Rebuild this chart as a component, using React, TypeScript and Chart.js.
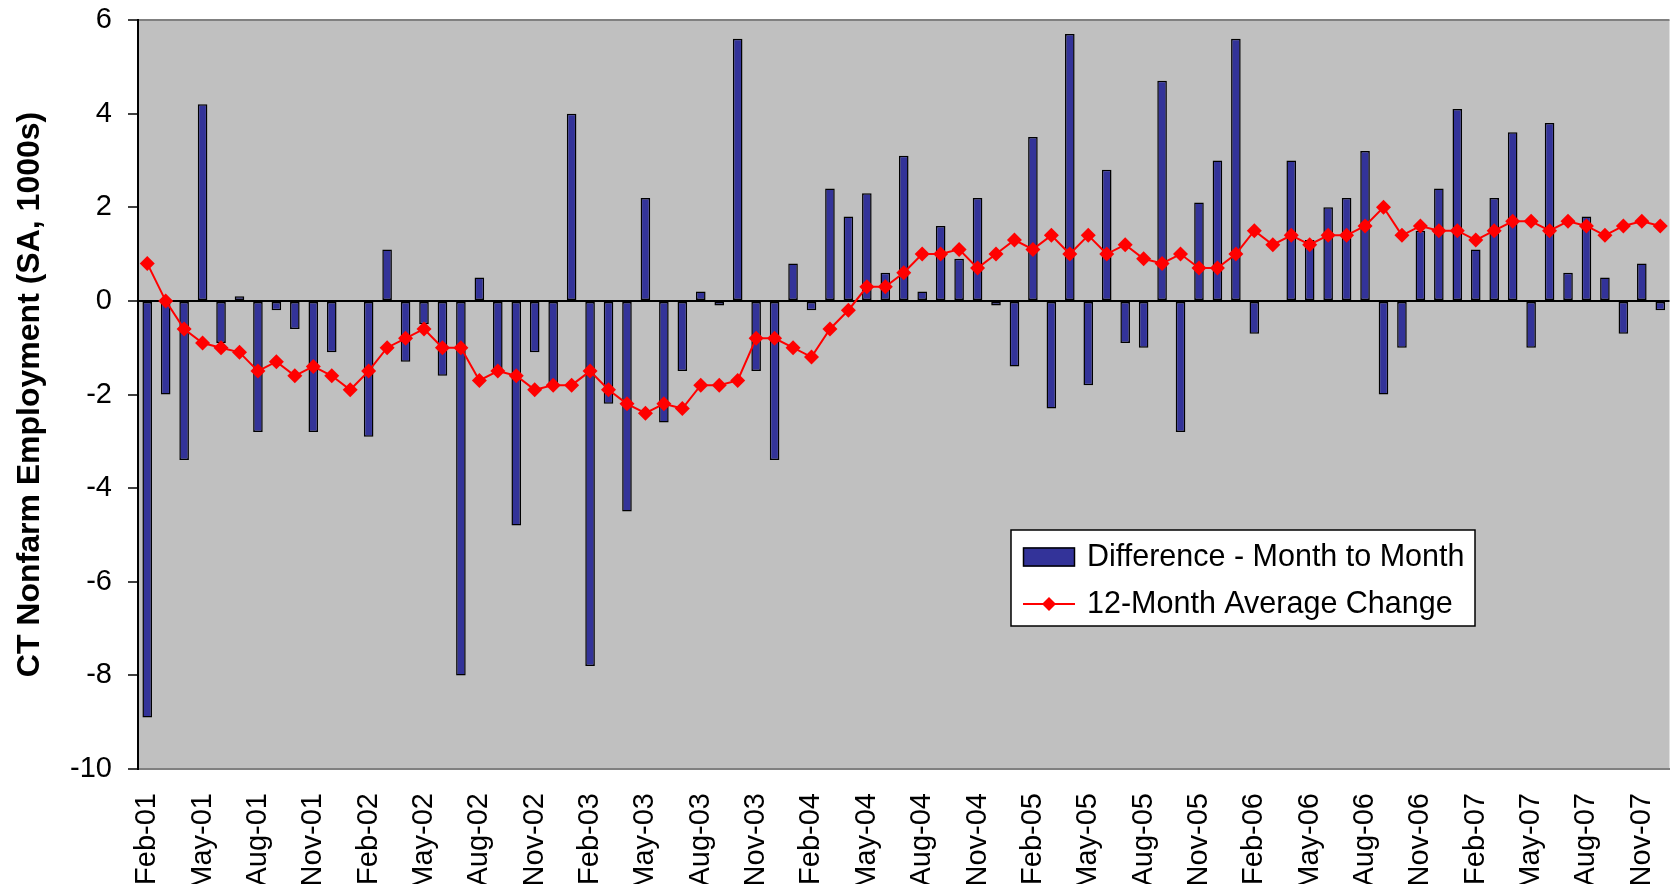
import React, { useEffect, useRef } from 'react';
import { Chart, registerables } from 'chart.js';

Chart.register(...registerables);

const categories: string[] = [
  'Feb-01', 'Mar-01', 'Apr-01', 'May-01', 'Jun-01', 'Jul-01', 'Aug-01', 'Sep-01', 'Oct-01', 'Nov-01', 'Dec-01',
  'Jan-02', 'Feb-02', 'Mar-02', 'Apr-02', 'May-02', 'Jun-02', 'Jul-02', 'Aug-02', 'Sep-02', 'Oct-02', 'Nov-02', 'Dec-02',
  'Jan-03', 'Feb-03', 'Mar-03', 'Apr-03', 'May-03', 'Jun-03', 'Jul-03', 'Aug-03', 'Sep-03', 'Oct-03', 'Nov-03', 'Dec-03',
  'Jan-04', 'Feb-04', 'Mar-04', 'Apr-04', 'May-04', 'Jun-04', 'Jul-04', 'Aug-04', 'Sep-04', 'Oct-04', 'Nov-04', 'Dec-04',
  'Jan-05', 'Feb-05', 'Mar-05', 'Apr-05', 'May-05', 'Jun-05', 'Jul-05', 'Aug-05', 'Sep-05', 'Oct-05', 'Nov-05', 'Dec-05',
  'Jan-06', 'Feb-06', 'Mar-06', 'Apr-06', 'May-06', 'Jun-06', 'Jul-06', 'Aug-06', 'Sep-06', 'Oct-06', 'Nov-06', 'Dec-06',
  'Jan-07', 'Feb-07', 'Mar-07', 'Apr-07', 'May-07', 'Jun-07', 'Jul-07', 'Aug-07', 'Sep-07', 'Oct-07', 'Nov-07', 'Dec-07',
];

const monthToMonth: number[] = [
  -8.9, -2.0, -3.4, 4.2, -0.9, 0.1, -2.8, -0.2, -0.6, -2.8, -1.1, 0,
  -2.9, 1.1, -1.3, -0.5, -1.6, -8.0, 0.5, -1.5, -4.8, -1.1, -1.8, 4.0,
  -7.8, -2.2, -4.5, 2.2, -2.6, -1.5, 0.2, -0.1, 5.6, -1.5, -3.4, 0.8,
  -0.2, 2.4, 1.8, 2.3, 0.6, 3.1, 0.2, 1.6, 0.9, 2.2, -0.1, -1.4,
  3.5, -2.3, 5.7, -1.8, 2.8, -0.9, -1.0, 4.7, -2.8, 2.1, 3.0, 5.6,
  -0.7, 0, 3.0, 1.3, 2.0, 2.2, 3.2, -2.0, -1.0, 1.5, 2.4, 4.1,
  1.1, 2.2, 3.6, -1.0, 3.8, 0.6, 1.8, 0.5, -0.7, 0.8, -0.2,
];

const avgChange12: number[] = [
  0.8, 0, -0.6, -0.9, -1.0, -1.1, -1.5, -1.3, -1.6, -1.4, -1.6, -1.9,
  -1.5, -1.0, -0.8, -0.6, -1.0, -1.0, -1.7, -1.5, -1.6, -1.9, -1.8, -1.8,
  -1.5, -1.9, -2.2, -2.4, -2.2, -2.3, -1.8, -1.8, -1.7, -0.8, -0.8, -1.0,
  -1.2, -0.6, -0.2, 0.3, 0.3, 0.6, 1.0, 1.0, 1.1, 0.7, 1.0, 1.3,
  1.1, 1.4, 1.0, 1.4, 1.0, 1.2, 0.9, 0.8, 1.0, 0.7, 0.7, 1.0,
  1.5, 1.2, 1.4, 1.2, 1.4, 1.4, 1.6, 2.0, 1.4, 1.6, 1.5, 1.5,
  1.3, 1.5, 1.7, 1.7, 1.5, 1.7, 1.6, 1.4, 1.6, 1.7, 1.6,
];

const seriesNames: string[] = ['Difference - Month to Month', '12-Month Average Change'];
const yAxisTitle = 'CT Nonfarm Employment (SA, 1000s)';
const yMin = -10;
const yMax = 6;
const yStep = 2;
const tickEvery = 3;

const FONT = "'Liberation Sans', Arial, sans-serif";
const BAR_COLOR = '#333399';
const LINE_COLOR = '#FF0000';
const PLOT_BG = '#C0C0C0';

const plotBgPlugin = {
  id: 'plotBg',
  beforeDraw(chart: any) {
    const { ctx, chartArea } = chart;
    ctx.save();
    ctx.fillStyle = PLOT_BG;
    ctx.fillRect(chartArea.left, chartArea.top, chartArea.right - chartArea.left, chartArea.bottom - chartArea.top);
    ctx.restore();
  },
};

const boxLegendPlugin = {
  id: 'boxLegend',
  afterDraw(chart: any) {
    const { ctx } = chart;
    const x = 1011, y = 530, w = 464, h = 96;
    ctx.save();
    ctx.fillStyle = '#FFFFFF';
    ctx.fillRect(x, y, w, h);
    ctx.strokeStyle = '#000000';
    ctx.lineWidth = 1.5;
    ctx.strokeRect(x, y, w, h);
    const ds = chart.data.datasets;
    const barDs = ds.find((d: any) => d.type === 'bar');
    const lineDs = ds.find((d: any) => d.type === 'line');
    // row 1: bar swatch
    const r1 = y + 27;
    ctx.fillStyle = BAR_COLOR;
    ctx.fillRect(1023, r1 - 9.5, 52, 19);
    ctx.lineWidth = 1.5;
    ctx.strokeRect(1023.5, r1 - 9, 51, 18);
    // row 2: line swatch
    const r2 = y + 74;
    ctx.strokeStyle = LINE_COLOR;
    ctx.lineWidth = 2;
    ctx.beginPath();
    ctx.moveTo(1023, r2);
    ctx.lineTo(1075, r2);
    ctx.stroke();
    ctx.fillStyle = LINE_COLOR;
    ctx.beginPath();
    ctx.moveTo(1049, r2 - 7);
    ctx.lineTo(1056, r2);
    ctx.lineTo(1049, r2 + 7);
    ctx.lineTo(1042, r2);
    ctx.closePath();
    ctx.fill();
    ctx.fillStyle = '#000000';
    ctx.font = `30.5px ${FONT}`;
    ctx.textAlign = 'left';
    ctx.textBaseline = 'middle';
    ctx.fillText(barDs.label, 1087, r1 + 1);
    ctx.fillText(lineDs.label, 1087, r2 + 1);
    ctx.restore();
  },
};

export default function App() {
  const canvasRef = useRef<HTMLCanvasElement | null>(null);

  useEffect(() => {
    const canvas = canvasRef.current;
    if (!canvas) return;
    const chart = new Chart(canvas, {
      type: 'bar',
      data: {
        labels: categories,
        datasets: [
          {
            type: 'line',
            label: seriesNames[1],
            data: avgChange12,
            borderColor: LINE_COLOR,
            backgroundColor: LINE_COLOR,
            borderWidth: 2,
            pointStyle: 'rectRot',
            pointRadius: 7.5,
            pointBorderWidth: 0,
            pointBackgroundColor: LINE_COLOR,
            tension: 0,
            order: 0,
          } as any,
          {
            type: 'bar',
            label: seriesNames[0],
            data: monthToMonth,
            backgroundColor: BAR_COLOR,
            borderColor: '#000000',
            borderWidth: 1.5,
            borderSkipped: false,
            barPercentage: 0.52,
            categoryPercentage: 1.0,
            order: 1,
          } as any,
        ],
      },
      options: {
        responsive: false,
        maintainAspectRatio: false,
        animation: false,
        devicePixelRatio: 1,
        layout: { padding: { top: 20, left: 0, right: 0, bottom: 0 } },
        plugins: {
          legend: { display: false },
          tooltip: { enabled: false },
          title: { display: false },
        },
        scales: {
          x: {
            type: 'category',
            offset: true,
            grid: { display: false, drawTicks: false },
            border: { display: true, color: '#808080', width: 2 },
            ticks: {
              autoSkip: false,
              maxRotation: 90,
              minRotation: 90,
              padding: 24,
              color: '#000000',
              font: { family: FONT, size: 29 },
              callback: (_v: any, i: number) => (i % tickEvery === 0 ? categories[i] : ''),
            },
            afterFit: (s: any) => {
              s.height = 115;
              s.paddingLeft = 0;
              s.paddingRight = 0;
            },
          },
          y: {
            min: yMin,
            max: yMax,
            grid: {
              display: true,
              drawOnChartArea: true,
              drawTicks: true,
              tickLength: 10,
              tickColor: '#000000',
              tickWidth: 1.5,
              color: (c: any) => {
                const v = c.tick ? c.tick.value : null;
                if (v === 0) return '#000000';
                if (v === yMax || v === yMin) return '#808080';
                return 'rgba(0,0,0,0)';
              },
              lineWidth: 2,
            },
            border: { display: true, color: '#000000', width: 2 },
            ticks: {
              stepSize: yStep,
              padding: 16,
              color: '#000000',
              font: { family: FONT, size: 29 },
            },
            title: {
              display: true,
              text: yAxisTitle,
              color: '#000000',
              font: { family: FONT, size: 32, weight: 'bold' },
              padding: { top: 11, bottom: 0 },
            },
            afterFit: (s: any) => {
              s.width = 138;
              s.paddingTop = 0;
              s.paddingBottom = 0;
            },
          },
        },
      },
      plugins: [plotBgPlugin, boxLegendPlugin],
    });
    return () => chart.destroy();
  }, []);

  return (
    <div
      style={{
        position: 'fixed',
        left: 0,
        top: 0,
        width: 1674,
        height: 884,
        overflow: 'hidden',
        background: '#FFFFFF',
      }}
    >
      <canvas ref={canvasRef} width={1677} height={884} style={{ display: 'block' }} />
    </div>
  );
}
